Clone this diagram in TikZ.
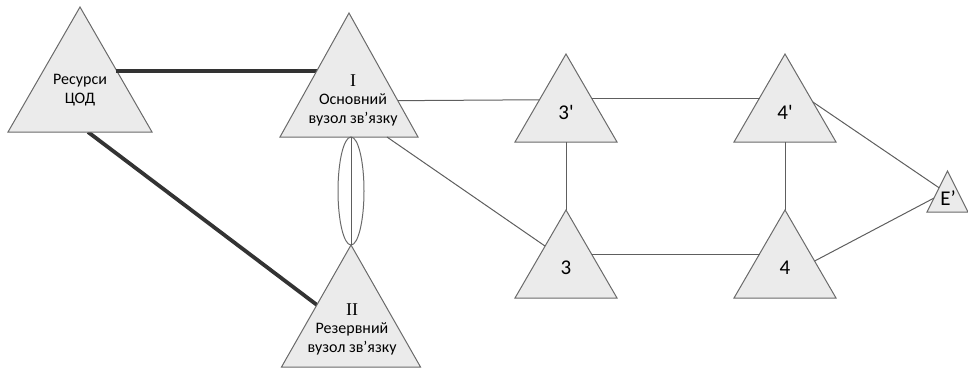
\documentclass[tikz,border=0pt]{standalone}
\usepackage{fontspec}
\setmainfont{Carlito}
\newfontfamily\romanfont{Liberation Serif}
\newfontfamily\plainfont{Carlito}[Ligatures=ResetAll]
\usetikzlibrary{calc}

\definecolor{trifill}{HTML}{EBEBEB}
\definecolor{triline}{HTML}{6A6A6A}
\definecolor{linkline}{HTML}{5E5E5E}
\definecolor{trunk}{HTML}{333333}

\tikzset{
  tri/.style={draw=triline, fill=trifill, line width=1pt, line join=miter},
  link/.style={draw=linkline, line width=1pt},
  trunkline/.style={draw=trunk, line width=3.8pt},
  lbl/.style={align=center, inner sep=0pt, font=\fontsize{16}{18.5}\selectfont},
  num/.style={inner sep=0pt, font=\plainfont\fontsize{21}{24}\selectfont},
}

% triangle: name, apex x, apex y, half base width, height
\newcommand{\trinode}[5]{%
  \coordinate (#1-a) at (#2,#3);
  \coordinate (#1-l) at (#2-#4,#3+#5);
  \coordinate (#1-r) at (#2+#4,#3+#5);
  \coordinate (#1-b) at (#2,#3+#5);
  \draw[tri] (#1-a) -- (#1-l) -- (#1-r) -- cycle;
}

\begin{document}
\begin{tikzpicture}[x=1pt,y=-1pt]
  \useasboundingbox (0,0) rectangle (968,370);

  % trunk lines to the data centre (drawn first, under the triangles)
  \coordinate (R-p1) at (116,71);
  \coordinate (R-p2) at (88,132);
  \coordinate (I-p1) at (317,71);
  \coordinate (II-p1) at (317,305);
  \draw[trunkline] (R-p1) -- (I-p1);
  \draw[trunkline] (R-p2) -- (II-p1);

  % triangles
  \trinode{R}{80}{7}{72}{125}
  \trinode{I}{349}{13}{69}{124}
  \trinode{II}{351}{245}{69.5}{122}
  \trinode{T3p}{566}{54}{51}{88}
  \trinode{T3}{566}{210}{51}{88}
  \trinode{T4p}{785}{54}{51}{88}
  \trinode{T4}{785}{210}{51}{88}
  \trinode{E}{947.5}{171}{20.5}{41}

  % redraw the trunk end over the triangle edge
  \draw[trunkline] (R-p1) -- ($(R-p1)!0.02!(I-p1)$);

  % double link between the main and the backup node
  \coordinate (I-e) at (351,137);
  \draw[draw=triline, line width=1pt] (351,191) ellipse [x radius=13, y radius=54];
  \draw[link] (I-e) -- (II-a);

  % thin links
  \draw[link] ($(I-a)!0.707!(I-r)$) -- ($(T3p-a)!0.52!(T3p-l)$);
  \draw[link] ($(I-l)!0.775!(I-r)$) -- ($(T3-a)!0.41!(T3-l)$);
  \draw[link] ($(T3p-a)!0.5!(T3p-r)$) -- ($(T4p-a)!0.5!(T4p-l)$);
  \draw[link] (T3p-b) -- (T3-a);
  \draw[link] ($(T3-a)!0.5!(T3-r)$) -- ($(T4-a)!0.5!(T4-l)$);
  \draw[link] (T4p-b) -- (T4-a);
  \draw[link] ($(T4p-a)!0.545!(T4p-r)$) -- ($(E-a)!0.41!(E-l)$);
  \draw[link] ($(T4-a)!0.58!(T4-r)$) -- ($(E-a)!0.66!(E-l)$);

  % labels
  \node[lbl] (R-t) at (80,90) {Ресурси\\ЦОД};
  \node[lbl] (I-t) at (353,100) {{\romanfont\fontsize{18}{18.5}\selectfont I}\\Основний\\вузол зв’язку};
  \node[lbl] (II-t) at (352,329) {{\romanfont\fontsize{18}{18.5}\selectfont II}\\Резервний\\вузол зв’язку};
  \node[num] (T3p-t) at (566,112) {3'};
  \node[num] (T3-t) at (566,268) {3};
  \node[num] (T4p-t) at (785,112) {4'};
  \node[num] (T4-t) at (785,268) {4};
  \node[num] (E-t) at (948,198) {E’};
\end{tikzpicture}
\end{document}
